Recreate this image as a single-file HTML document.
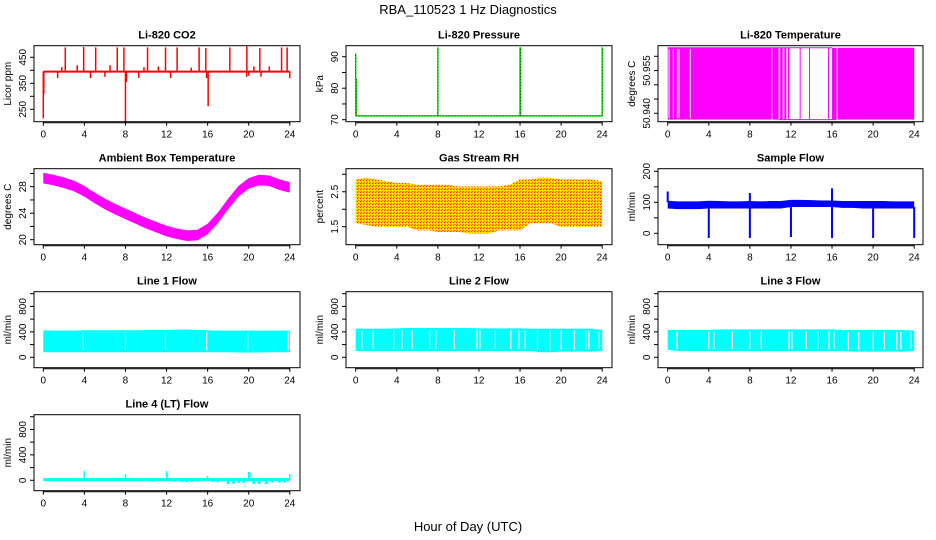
<!DOCTYPE html>
<html><head><meta charset="utf-8"><style>
html,body{margin:0;padding:0;background:#fff}
svg{display:block;font-family:"Liberation Sans",Arial,sans-serif}
</style></head><body>
<svg id="chart" width="936" height="540" viewBox="0 0 936 540" xmlns="http://www.w3.org/2000/svg">
<defs>
<pattern id="rhpat" width="3" height="3" patternUnits="userSpaceOnUse">
<rect width="3" height="3" fill="#ffcc00"/><rect width="1" height="1" fill="#ff2a00"/><rect x="2" y="1" width="1" height="1" fill="#ffff00"/><rect x="1" y="2" width="1" height="1" fill="#ff6000"/>
</pattern>
</defs>
<text x="468" y="14" font-size="13" text-anchor="middle">RBA_110523  1 Hz Diagnostics</text>
<text x="468" y="531" font-size="13" text-anchor="middle">Hour of Day (UTC)</text>
</svg>
<script>
// ---- data ----
const xTicks = [0,4,8,12,16,20,24];
const hours = [0,1,2,3,4,5,6,7,8,9,10,11,12,13,14,15,16,17,18,19,20,21,22,23,24];
const co2Base = 395;
const co2UpSpikes = [[2.14,488],[3.93,490],[5.1,488],[7.2,488],[7.85,488],[10.15,488],[11.9,488],[13.03,488],[15.17,488],[15.82,486],[18.16,488],[19.82,492],[21.08,486],[23.2,488],[23.74,488],[3.3,420],[6.5,420],[9.8,412],[11.2,415],[14.4,410],[20.5,415],[22.0,415],[1.8,412]];
const co2DownSpikes = [[0,215],[0.05,310],[8,200],[8.1,355],[16.05,262],[15.9,370],[24,370],[1.4,370],[4.6,370],[6.0,375],[9.3,370],[12.4,370],[19.8,375],[21.2,375],[20.0,380]];
const presBase = 71.2;
const presSpikes = [[0,91],[0.05,83],[8,93],[16,93],[16.05,93],[24,93]];
const tempHi = 50.963, tempLo = 50.9378;
const tempFill = [[0,10.1],[10.18,10.8],[10.95,11.2],[11.35,11.55],[11.7,11.85],[12.85,12.92],[13.76,13.82],[15.6,15.7],[16.0,16.45],[16.55,24]];
const tempWhite = [0.13,0.55,0.94,1.1,2.2];
const tempLoLine = [10.8,16.4];
const ambMid = [29.3,29.0,28.6,28.1,27.3,26.3,25.4,24.6,23.9,23.2,22.5,21.9,21.3,20.9,20.6,20.7,21.6,23.3,25.4,27.3,28.5,29.0,28.9,28.3,27.9];
const ambHalf = 0.8;
const rhHi = [2.85,2.9,2.85,2.8,2.75,2.75,2.7,2.7,2.7,2.7,2.65,2.65,2.65,2.65,2.65,2.7,2.85,2.85,2.9,2.9,2.85,2.85,2.85,2.85,2.8];
const rhLo = [1.6,1.55,1.5,1.5,1.5,1.5,1.4,1.4,1.35,1.35,1.35,1.3,1.3,1.3,1.4,1.4,1.4,1.6,1.6,1.6,1.5,1.5,1.5,1.5,1.5];
const sfHi = [105,103,103,103,105,104,103,103,104,103,104,104,108,108,107,106,106,104,104,104,104,104,103,103,103];
const sfLo = [80,78,78,78,80,80,80,80,80,80,80,80,85,85,85,85,85,82,82,80,80,80,80,80,80];
const sfDips = [[4,-15],[8,-15],[12,-12],[16,-15],[20,-15],[24,-15]];
const sfSpikes = [[0,135],[8,130],[16,145]];
const l1Hi = [425,420,420,420,425,425,425,425,425,425,430,430,430,435,435,430,425,420,420,420,420,420,420,420,420];
const l1Lo = [80,80,80,80,80,80,80,80,80,80,80,80,80,80,80,80,80,80,80,75,75,75,80,80,80];
const l1Gaps = [3.9,8.0,11.9,15.9,19.9,23.85];
const l2Hi = [450,450,450,450,455,460,460,460,460,460,460,460,455,455,455,455,455,450,450,450,450,450,450,450,430];
const l2Lo = [100,100,100,100,100,100,100,100,100,100,100,100,100,100,100,100,100,100,80,80,90,90,90,90,100];
const l2Gaps = [0.6,1.7,3.7,4.5,5.5,7.2,7.8,9.6,11.8,12.1,13.6,15.1,15.9,16.5,17.7,18.9,20,21.3,22.4,22.7,23.7];
const l3Hi = [430,430,430,430,430,440,440,440,440,440,440,440,440,440,440,440,440,430,430,430,430,430,430,430,420];
const l3Lo = [120,100,100,100,100,100,100,100,100,100,100,100,100,100,100,100,100,100,90,90,90,90,90,90,100];
const l3Gaps = [0.9,4,4.5,6.3,8,9.1,11.8,12.1,13.5,14.6,15.7,16.2,17.6,18.6,20,21.1,22.3,22.7,23.7];
const l4Base = 10;
const l4Spikes = [[4,150],[8,100],[12,150],[12.05,120],[16,70],[20,130],[20.1,130],[24,100]];
const l4Neg = [[10.7,-20],[12.8,-20],[13.5,-30],[14,-30],[14.5,-25],[15,-20],[16.5,-25],[17,-30],[18,-60],[18.5,-50],[19,-40],[19.5,-40],[20.5,-60],[21,-55],[21.7,-60],[22.3,-35],[23,-35],[23.5,-35]];

// ---- layout ----
const svg = document.getElementById('chart');
const NS = 'http://www.w3.org/2000/svg';
const colL = [34,346,658], colR = [300,612,923], colX0 = [43.3,355.7,667.7];
const rowT = [45.7,168.7,291.7,414.7], BH = 76;
function mk(tag, attrs, parent){const e=document.createElementNS(NS,tag);for(const k in attrs)e.setAttribute(k,attrs[k]);(parent||svg).appendChild(e);return e;}
function panel(name,title,ylab,col,row,v1,t1,v2,t2,yTicks,yLabels){
  const g = mk('g',{});
  
  
  const L=colL[col],R=colR[col],T=rowT[row],B=T+BH;
  const xs = t => colX0[col] + t*(246.5/24);
  const ys = v => T + t1 + (v - v1)*(t2 - t1)/(v2 - v1);
  const plot = mk('g',{},g);
  
  
  const tt = mk('text',{x:(L+R)/2,y:T-7,'font-size':11,'font-weight':'bold','text-anchor':'middle'},g);
  tt.textContent = title;
  
  
  const ax = mk('g',{stroke:'#000','stroke-width':1,fill:'none'},g);
  
  
  mk('rect',{x:L,y:T,width:R-L,height:BH},ax);
  mk('line',{x1:xs(0),x2:xs(24),y1:B+1,y2:B+1},ax);
  xTicks.forEach(t=>{mk('line',{x1:xs(t),x2:xs(t),y1:B,y2:B+4},ax);
    const lb=mk('text',{x:xs(t),y:B+16,'font-size':10,'text-anchor':'middle',fill:'#000',stroke:'none'},g);lb.textContent=t;
    
    });
  yTicks.forEach(v=>{mk('line',{x1:L-4,x2:L,y1:ys(v),y2:ys(v)},ax);});
  yLabels.forEach(v=>{const y=ys(v);const lb=mk('text',{x:0,y:0,'font-size':10,'text-anchor':'middle',transform:`translate(${L-8},${y}) rotate(-90)`},g);lb.textContent=v;
    
    });
  const yl = mk('text',{x:0,y:0,'font-size':10,'text-anchor':'middle',transform:`translate(${L-23},${T+BH/2}) rotate(-90)`},g);
  yl.textContent = ylab;
  
  
  return {plot,xs,ys};
}
function band(p,hi,lo,fill){
  let d='M'+hours.map((h,i)=>p.xs(h)+','+p.ys(hi[i])).join(' L');
  d+=' L'+hours.slice().reverse().map((h,j)=>{const i=hours.length-1-j;return p.xs(h)+','+p.ys(lo[i]);}).join(' L')+'Z';
  const e=mk('path',{d,fill,stroke:'none'},p.plot);
  
  
  return e;
}
function vline(p,t,a,b,color,w){
  const e=mk('line',{x1:p.xs(t),x2:p.xs(t),y1:p.ys(a),y2:p.ys(b),stroke:color,'stroke-width':w||1},p.plot);
  
  
  return e;
}
function hline(p,a,b,v,color,w){
  const e=mk('line',{x1:p.xs(a),x2:p.xs(b),y1:p.ys(v),y2:p.ys(v),stroke:color,'stroke-width':w||1},p.plot);
  
  
  return e;
}

// CO2
let p = panel('co2','Li-820 CO2','Licor ppm',0,0,450,11.6,250,63.6,[250,300,350,400,450],[250,350,450]);
hline(p,0,24,co2Base,'#ff0000',2);
co2UpSpikes.forEach(s=>vline(p,s[0],co2Base,s[1],'#ff0000',1.5));
co2DownSpikes.forEach(s=>vline(p,s[0],co2Base,s[1],'#ff0000',1.5));

// Pressure
p = panel('pressure','Li-820 Pressure','kPa',1,0,90,11,70,74,[70,75,80,85,90],[70,80,90]);
hline(p,0,24,presBase,'#00dd00',1.5);
hline(p,0,24,presBase,'#000000',0.6).setAttribute('stroke-dasharray','1,2');
presSpikes.forEach(s=>{vline(p,s[0],presBase,s[1],'#00dd00',1.5);vline(p,s[0],presBase,s[1],'#000',0.6).setAttribute('stroke-dasharray','1,2');});

// Li-820 temperature
p = panel('li820-temp','Li-820 Temperature','degrees C',2,0,50.94,67.6,50.96,10.6,[50.94,50.945,50.95,50.955,50.96],['50.940','50.955']);
hline(p,0,16,tempHi,'#ff00ff',1);
tempFill.forEach(f=>{const r=mk('rect',{x:p.xs(f[0]),y:p.ys(tempHi),width:Math.max(1,p.xs(f[1])-p.xs(f[0])),height:p.ys(tempLo)-p.ys(tempHi),fill:'#ff00ff'},p.plot);
  
  });
tempWhite.forEach(t=>vline(p,t,tempHi-0.0005,tempLo+0.0005,'#ffffff',1));
hline(p,tempLoLine[0],tempLoLine[1],tempLo,'#ff00ff',1);

// Ambient
p = panel('ambient-temp','Ambient Box Temperature','degrees C',0,1,20,71,28,18,[20,22,24,26,28,30],[20,24,28]);
band(p,ambMid.map(v=>v+ambHalf),ambMid.map(v=>v-ambHalf),'#ff00ff');

// RH
p = panel('gas-rh','Gas Stream RH','percent',1,1,1.5,58,3.0,5.6,[1.5,2.0,2.5,3.0],['1.5','2.5']);
band(p,rhHi,rhLo,'url(#rhpat)');

// Sample flow
p = panel('sample-flow','Sample Flow','ml/min',2,1,0,64.6,200,2.6,[0,50,100,150,200],[0,100,200]);
band(p,sfHi,sfLo,'#0000ff');
sfDips.forEach(s=>vline(p,s[0],85,s[1],'#0000ff',2));
sfSpikes.forEach(s=>vline(p,s[0],100,s[1],'#0000ff',2));

// Line flows
const lt=[0,200,400,600,800,1000], ll=[0,400,800];
function lineFlow(name,title,col,row,hi,lo,gaps){
  const q = panel(name,title,'ml/min',col,row,0,65.6,1000,2,lt,ll);
  band(q,hi,lo,'#00ffff');
  gaps.forEach(t=>vline(q,t,hi[Math.round(t)]-30,lo[Math.round(t)]+30,'#ffffff',1.2));
  return q;
}
lineFlow('line1-flow','Line 1 Flow',0,2,l1Hi,l1Lo,l1Gaps);
lineFlow('line2-flow','Line 2 Flow',1,2,l2Hi,l2Lo,l2Gaps);
lineFlow('line3-flow','Line 3 Flow',2,2,l3Hi,l3Lo,l3Gaps);

// Line 4
p = panel('line4-flow','Line 4 (LT) Flow','ml/min',0,3,0,65.6,1000,2,lt,ll);
hline(p,0,24,l4Base,'#00ffff',3);
l4Spikes.forEach(s=>vline(p,s[0],l4Base,s[1],'#00ffff',1.5));
l4Neg.forEach(s=>vline(p,s[0],l4Base,s[1],'#00ffff',3));
</script>
</body></html>
